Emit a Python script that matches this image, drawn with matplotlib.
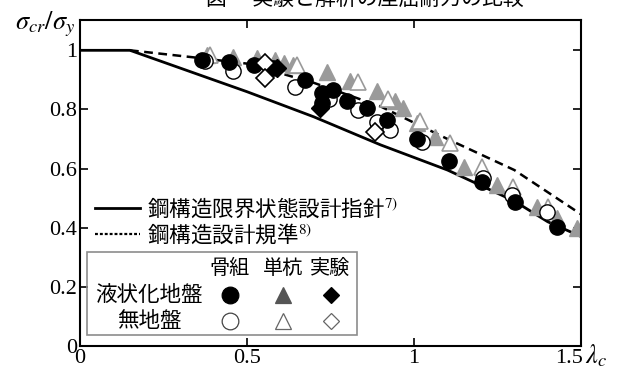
import matplotlib
matplotlib.use("Agg")
import matplotlib.pyplot as plt
from matplotlib.lines import Line2D
from matplotlib.patches import Rectangle
from matplotlib.transforms import ScaledTranslation

plt.rcParams['font.family'] = ['Liberation Serif', 'Noto Sans CJK JP', 'DejaVu Sans']
plt.rcParams['mathtext.fontset'] = 'stix'

# === Design curves ===
lsd_lam = [0, 0.15, 0.3, 0.5, 0.7, 0.9, 1.1, 1.3, 1.4, 1.5]
lsd_val = [1.0, 1.0, 0.94, 0.86, 0.775, 0.68, 0.595, 0.49, 0.42, 0.37]

asd_lam = [0.15, 0.35, 0.5, 0.7, 0.9, 1.1, 1.3, 1.4, 1.5]
asd_val = [1.0, 0.975, 0.955, 0.89, 0.81, 0.70, 0.595, 0.52, 0.445]

# === Results: 骨組 / 単杭 / 実験, liquefied ground vs no ground ===
liq_frame_lam = [0.364, 0.446, 0.521, 0.578, 0.674, 0.724, 0.758, 0.724, 0.798,
                 0.858, 0.918, 1.008, 1.103, 1.203, 1.302, 1.427]
liq_frame_val = [0.968, 0.959, 0.950, 0.940, 0.900, 0.855, 0.866, 0.822, 0.827,
                 0.804, 0.765, 0.700, 0.624, 0.556, 0.488, 0.404]

none_frame_lam = [0.375, 0.458, 0.644, 0.745, 0.832, 0.888, 0.928, 1.023, 1.207, 1.293, 1.397]
none_frame_val = [0.965, 0.929, 0.877, 0.835, 0.799, 0.759, 0.731, 0.691, 0.569, 0.511, 0.454]

liq_pile_lam = [0.379, 0.458, 0.529, 0.584, 0.610, 0.638, 0.739, 0.808, 0.888, 0.943,
                0.967, 1.008, 1.063, 1.148, 1.248, 1.367, 1.427, 1.487]
liq_pile_val = [0.985, 0.979, 0.973, 0.968, 0.957, 0.951, 0.925, 0.897, 0.861, 0.827,
                0.805, 0.754, 0.708, 0.607, 0.545, 0.471, 0.432, 0.398]

none_pile_lam = [0.390, 0.649, 0.833, 0.922, 1.018, 1.108, 1.203, 1.297, 1.400]
none_pile_val = [0.985, 0.951, 0.894, 0.837, 0.762, 0.686, 0.607, 0.539, 0.470]

liq_exp_lam = [0.590, 0.719]
liq_exp_val = [0.940, 0.804]

none_exp_lam = [0.554, 0.554, 0.883]
none_exp_val = [0.957, 0.905, 0.725]

GRAY = "#9a9a9a"
SERIF = "Liberation Serif"
cjk = ["Noto Sans CJK JP", "DejaVu Sans"]

fig = plt.figure(figsize=(6.19, 3.74), dpi=100)
ax = fig.add_axes([0.129, 0.0749, 0.81, 0.872])

l1, = ax.plot(lsd_lam, lsd_val, color="black", lw=2.0, zorder=1)
ax.plot(asd_lam, asd_val, color="black", lw=1.8, ls=(0, (3.5, 2.2)), zorder=1)

ms = 11
ax.plot(liq_pile_lam, liq_pile_val, ls="none", marker="^", ms=ms, mfc=GRAY, mec=GRAY, zorder=2)
ax.plot(none_pile_lam, none_pile_val, ls="none", marker="^", ms=ms, mfc="white", mec=GRAY, mew=1.2, zorder=2)
ax.plot(none_frame_lam, none_frame_val, ls="none", marker="o", ms=ms, mfc="white", mec="black", mew=1.0, zorder=3)
ax.plot(liq_frame_lam, liq_frame_val, ls="none", marker="o", ms=ms, mfc="black", mec="black", zorder=4)
ax.plot(liq_exp_lam, liq_exp_val, ls="none", marker="D", ms=9, mfc="black", mec="black", zorder=5)
ax.plot(none_exp_lam, none_exp_val, ls="none", marker="D", ms=9, mfc="white", mec="black", mew=1.2, zorder=5)

# === Axes style ===
ax.set_xlim(0, 1.5)
ax.set_ylim(0, 1.103)
ax.set_xticks([0, 0.5, 1, 1.5])
ax.set_xticklabels(["0", "0.5", "1", "1.5"], family=SERIF, fontsize=16)
ax.set_yticks([0, 0.2, 0.4, 0.6, 0.8, 1])
ax.set_yticklabels(["0", "0.2", "0.4", "0.6", "0.8", "1"], family=SERIF, fontsize=16)
ax.tick_params(direction="in", top=True, right=True, length=6, width=1.2, pad=2)
for s in ax.spines.values():
    s.set_linewidth(1.5)

# "1.5" sits left of its tick so that λc fits beside it
last = ax.get_xticklabels()[-1]
last.set_ha("right")
last.set_transform(last.get_transform() + ScaledTranslation(0.02, 0, fig.dpi_scale_trans))

fig.text(15 / 619, 1 - 24 / 374, r"$\sigma_{cr}/\sigma_y$", fontsize=19, ha="left", va="center")
fig.text(585 / 619, 1 - 356 / 374, r"$\lambda_c$", fontsize=19, ha="left", va="center")
fig.text(0.59, 1.003, "図－ 実験と解析の座屈耐力の比較", fontsize=15, ha="center", va="center",
         family=cjk)

# === Line legend (dotted sample is finer than the plotted dashes) ===
l2_key = Line2D([], [], color="black", lw=1.6, ls=(0, (1.3, 0.9)))
leg = ax.legend([l1, l2_key], ["鋼構造限界状態設計指針$^{7)}$", "鋼構造設計規準$^{8)}$"],
                loc="upper left", bbox_to_anchor=(0.03, 0.46), frameon=False,
                fontsize=15.5, handlelength=2.1, handletextpad=0.3,
                labelspacing=0.05, borderpad=0, borderaxespad=0)
for t in leg.get_texts():
    t.set_family(cjk)

# === Marker key box ===
ax.add_patch(Rectangle((0.0146, 0.034), 0.538, 0.254, transform=ax.transAxes,
                       fill=False, ec="#8c8c8c", lw=1.2, zorder=6))
col_x = [0.299, 0.405, 0.500]
for cx, name in zip(col_x, ["骨組", "単杭", "実験"]):
    ax.text(cx, 0.238, name, transform=ax.transAxes, ha="center", va="center", fontsize=14.5, family=cjk)
ax.text(0.138, 0.156, "液状化地盤", transform=ax.transAxes, ha="center", va="center", fontsize=15.5, family=cjk)
ax.text(0.138, 0.077, "無地盤", transform=ax.transAxes, ha="center", va="center", fontsize=15.5, family=cjk)
key = [
    (col_x[0], 0.156, "o", 12, "black", "black"),
    (col_x[1], 0.156, "^", 11, "#555555", "#555555"),
    (col_x[2], 0.156, "D", 8, "black", "black"),
    (col_x[0], 0.077, "o", 12, "white", "#444444"),
    (col_x[1], 0.077, "^", 11, "white", "#666666"),
    (col_x[2], 0.077, "D", 8, "white", "#666666"),
]
for kx, ky, m, s, fc, ec in key:
    ax.add_line(Line2D([kx], [ky], transform=ax.transAxes, ls="none", marker=m, ms=s,
                       mfc=fc, mec=ec, mew=0.9, zorder=7))

fig.savefig("out.png", dpi=100)
